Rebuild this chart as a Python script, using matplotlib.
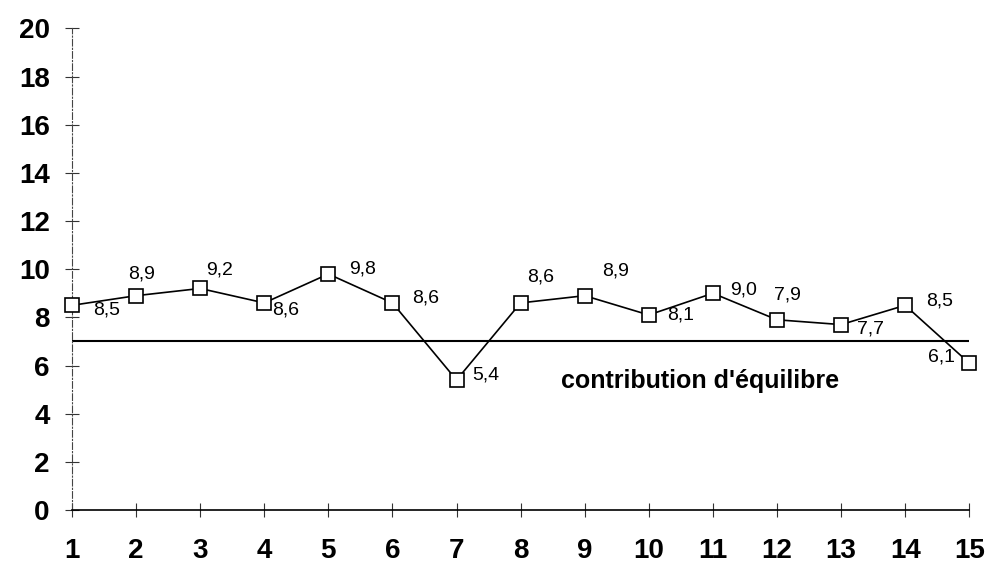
import matplotlib
matplotlib.use("Agg")
import matplotlib.pyplot as plt

plt.rcParams['font.family'] = ['Liberation Sans', 'DejaVu Sans']

periods = list(range(1, 16))
values = [8.5, 8.9, 9.2, 8.6, 9.8, 8.6, 5.4, 8.6, 8.9, 8.1, 9.0, 7.9, 7.7, 8.5, 6.1]
labels = ['8,5', '8,9', '9,2', '8,6', '9,8', '8,6', '5,4', '8,6', '8,9', '8,1',
          '9,0', '7,9', '7,7', '8,5', '6,1']
equilibre = 7.0
eq_label = "contribution d'équilibre"

# label offsets (pixels, y up)
offsets = [(35, -5), (5, 22), (19, 18), (21, -7), (34, 5), (33, 5), (29, 5),
           (20, 26), (31, 25), (32, 0), (31, 3), (10, 25), (29, -4), (34, 4), (-28, 6)]

fig = plt.figure(figsize=(9.86, 5.64), dpi=100)
ax = fig.add_axes([0.073, 0.0957, 0.910, 0.854])

ax.plot(periods, values, color='black', lw=1.2, marker='s', markersize=10,
        markerfacecolor='white', markeredgecolor='black', markeredgewidth=1.2,
        clip_on=False, zorder=3)
ax.plot([periods[0], periods[-1]], [equilibre, equilibre], color='black', lw=1.5, zorder=2)

for x, y, t, (dx, dy) in zip(periods, values, labels, offsets):
    ax.annotate(t, (x, y), xytext=(dx, dy), textcoords='offset pixels',
                ha='center', va='center', fontsize=14)

ax.text(10.8, 5.35, eq_label, ha='center', va='center', fontsize=18, fontweight='bold')

ax.set_xlim(1, 15)
ax.set_ylim(0, 20)
ax.set_xticks(periods)
ax.set_yticks(range(0, 21, 2))
for s in ['top', 'right']:
    ax.spines[s].set_visible(False)
ax.spines['left'].set_linestyle((0, (6, 2, 1, 2)))
ax.spines['left'].set_linewidth(0.8)
ax.spines['left'].set_color('#444444')
ax.spines['bottom'].set_linewidth(1.2)
ax.tick_params(axis='both', direction='inout', length=10, width=0.8,
               labelsize=20, color='#333333')
ax.tick_params(axis='y', pad=11)
ax.tick_params(axis='x', pad=15)
for lab in ax.get_xticklabels() + ax.get_yticklabels():
    lab.set_fontweight('bold')

fig.savefig('out.png', dpi=100)
